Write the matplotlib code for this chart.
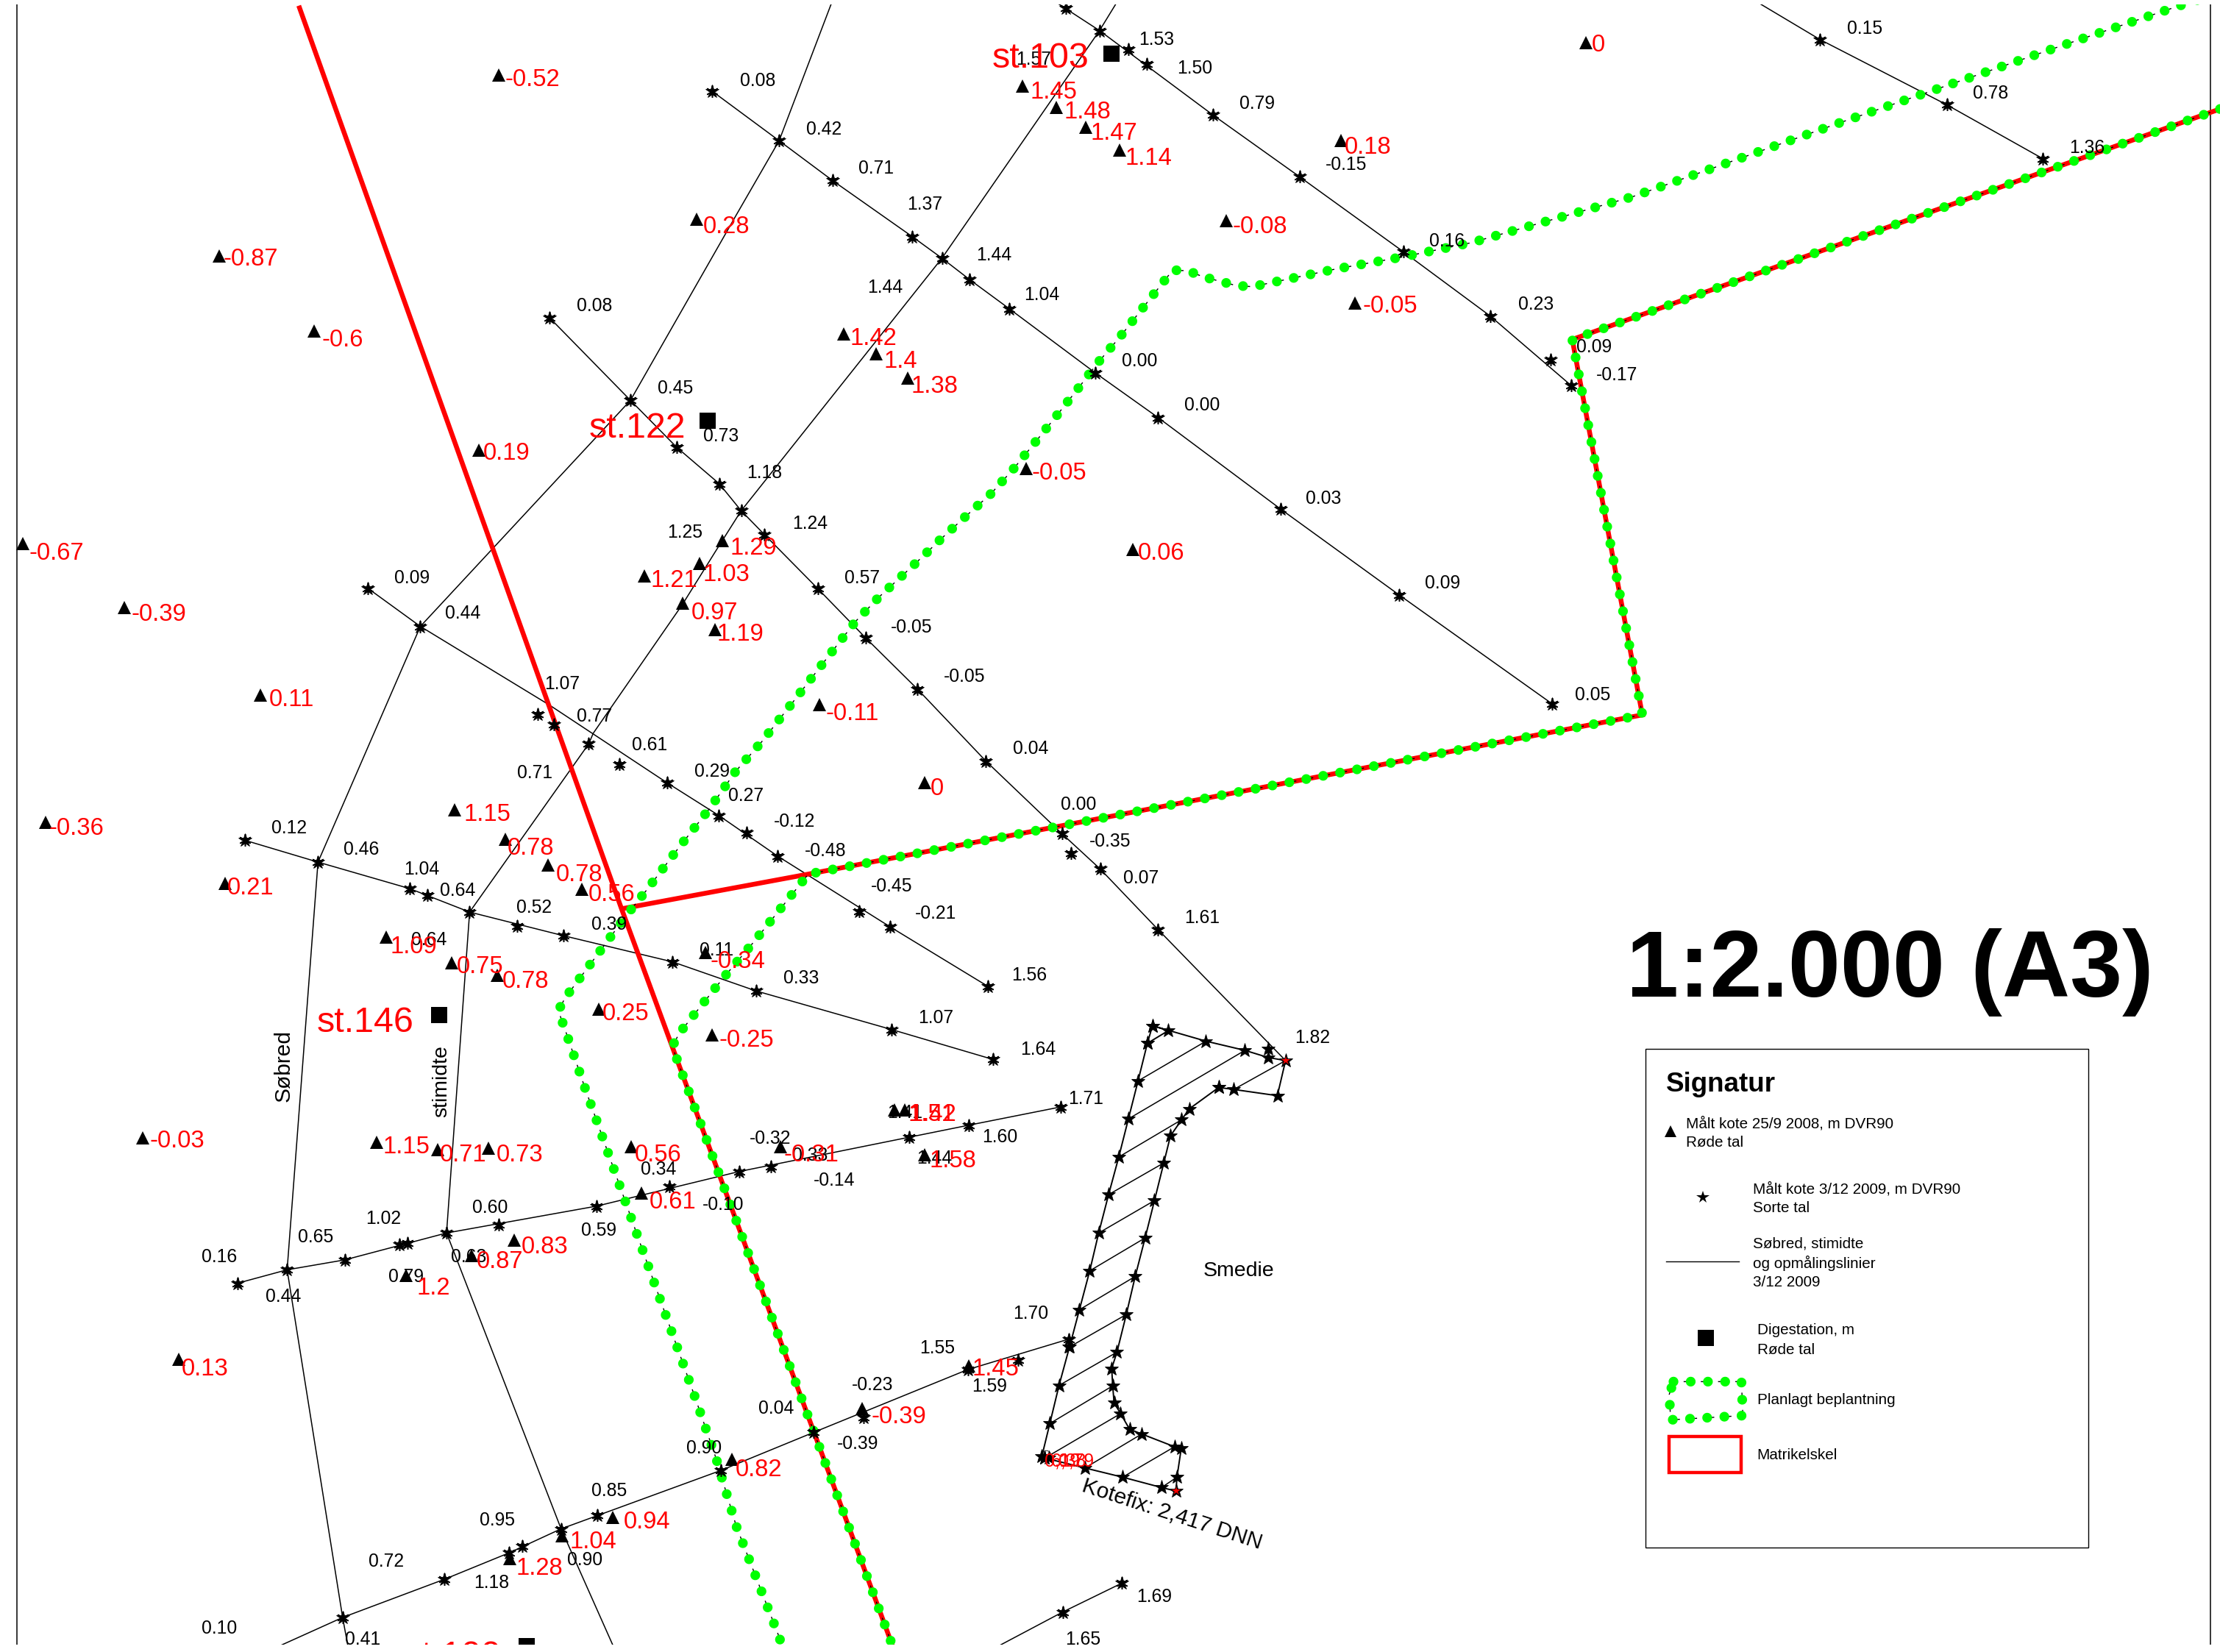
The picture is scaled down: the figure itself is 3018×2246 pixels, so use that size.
import matplotlib
matplotlib.use("Agg")
import matplotlib.pyplot as plt
from matplotlib.patches import Rectangle

plt.rcParams['font.family'] = ['Liberation Sans', 'DejaVu Sans']
plt.rcParams['lines.scale_dashes'] = False

# ---- map data (map coordinates) ----
line_sobred = [(587,3),(550.3,99.4),(519.5,152.8),(445.3,282.8),(296.9,442.5),(224.6,609),(202.8,897),(242,1142.6),(246.5,1167)]
line_stimidte = [(788,3),(776.6,21.6),(665.3,182.4),(523.5,360.8),(505.3,389.6),(482,427),(419,518),(415.8,525.5),(331.7,644.3),(322,779),(315.4,871),(396.3,1080),(435,1167)]
line_a = [(388.3,224.6),(445.3,282.8),(478,316),(508,341.7),(523.5,360.8),(540,377.7),(577.5,415.7),(611.3,450.5),(648,486.8),(696.4,537.7),(750,588.9),(777,613.8),(818,656.7),(908,749.2)]
line_b = [(503,64.4),(550.3,99.4),(588,127.5),(644.4,167.2),(665.3,182.4),(685,197.6),(713,218.2),(773.6,263.4),(818,295),(904.5,359.6),(988.4,420.4),(1096,497)]
line_c = [(748,3),(776.6,21.6),(856.8,81.3),(917.8,124.8),(991.3,177.9),(1052.5,223.2),(1109.8,272.4)]
line_d = [(1243.7,3),(1285.6,28),(1375,74),(1442.7,112)]
line_e = [(260,415.7),(296.9,442.5),(388,498),(471.2,553),(507.6,576),(549.3,604.8),(628.8,654.8),(697.8,696.8)]
line_f = [(173,593.6),(224.6,609),(289.3,627.7),(331.7,644.3),(398,661),(474.8,679.4),(534,700),(629.8,727.3),(701.4,748.4)]
line_i = [(167.7,906.5),(202.8,897),(243.5,890),(315.4,871),(421.5,852),(522,827.6),(642.4,803.3),(684,794.9),(749,782)]
line_j = [(199,1162),(242,1142.6),(314,1115.6),(359.5,1097),(396.3,1080),(509,1038.8),(574.8,1011.8),(683.5,967.5),(754.8,946)]
line_k = [(792.5,1118.3),(750.5,1138.8),(706.7,1162)]
survey_lines = [line_sobred, line_stimidte, line_a, line_b, line_c, line_d, line_e, line_f, line_i, line_j, line_k]

stars_survey = [(388.3,224.6),(445.3,282.8),(478,316),(508,341.7),(523.5,360.8),(540,377.7),(577.5,415.7),(611.3,450.5),(648,486.8),(696.4,537.7),(750,588.9),(756.7,602.8),(777,613.8),(818,656.7),
    (503,64.4),(550.3,99.4),(588,127.5),(644.4,167.2),(665.3,182.4),(685,197.6),(713,218.2),(773.6,263.4),(818,295),(904.5,359.6),(988.4,420.4),(1096,497),
    (752.8,5.5),(776.6,21.6),(796.8,35),(810,45),(856.8,81.3),(917.8,124.8),(991.3,177.9),(1052.5,223.2),(1095,254),(1109.8,272.4),
    (1285.6,28),(1375,74),(1442.7,112),
    (260,415.7),(296.9,442.5),(380,504.4),(391,511.6),(415.8,525.5),(437.7,539.7),(471.2,553),(507.6,576),(527.5,588.4),(549.3,604.8),(606.6,644),(628.8,654.8),(697.8,696.8),
    (173,593.6),(224.6,609),(289.3,627.7),(301.8,632.4),(331.7,644.3),(365,654.3),(398,661),(474.8,679.4),(534,700),(629.8,727.3),(701.4,748.4),
    (167.7,906.5),(202.8,897),(243.5,890),(282,879),(288,878),(315.4,871),(352.2,865),(421.5,852),(472.8,838),(522,827.6),(544.7,824),(642.4,803.3),(684,794.9),(749,782),
    (242,1142.6),(314,1115.6),(359.5,1097),(368.8,1092),(396.3,1080),(422,1070.6),(509,1038.8),(574.8,1011.8),(610,1001),(683.5,967.5),(719.3,960.5),(754.8,946),
    (792.5,1118.3),(750.5,1138.8)]

house_left = [(814,724.6),(810.4,737),(803.8,763.6),(797,790.4),(790.2,817.3),(783,843.9),(776,871),(769.7,897.7),(762.4,925.2),(755.4,951.5),(748,978.7),(741.5,1005.6),(735.9,1028.6)]
house_top = [(810.4,737),(825.3,728),(814,724.6),(851.8,735.5),(879.3,742),(895.6,747),(908,749.2),(902.2,774),(871.4,769.6),(860.8,768.2)]
house_right = [(860.8,768.2),(839.9,783.4),(834.6,791),(826.7,802.4),(822,821.5),(815.4,848.1),(808.8,874.5),(801.8,901.7),(795.5,928.6),(788.9,955.2),(785.2,966.7),(785.9,979),(786.9,991),(791.5,998.6),(797.8,1009.6),(806.4,1013),(829.6,1022),(834.3,1023.3),(831.3,1043.5),(830.6,1053.3),(820.4,1050.8),(792.9,1043.5),(766.3,1037),(738,1030),(735.9,1028.6)]
house_hatch = [((803.8,763.6),(851.8,735.5)),((797,790.4),(879.3,742)),((790.2,817.3),(834.6,791)),((783,843.9),(822,821.5)),((776,871),(815.4,848.1)),((769.7,897.7),(808.8,874.5)),((762.4,925.2),(801.8,901.7)),((755.4,951.5),(795.5,928.6)),((748,978.7),(788.9,955.2)),((741.5,1005.6),(785.9,979)),((738,1030),(791.5,998.6)),((766.3,1037),(806.4,1013)),((792.9,1043.5),(829.6,1022)),((820.4,1050.8),(831.3,1043.5)),((871.4,769.6),(908,749.2))]
house_extra_stars = [(895.6,741),(755,951.5),(738,1030),(741,1030)]
red_stars = [(908,749.2),(830.6,1053.3)]

matrikel_west = [(211,4),(439,642),(632,1167)]
matrikel_east = [(439,642),(570.9,617.5),(1160,505),(1110.5,239.8),(1568,77)]

plant_upper = [(1552,0),(1536.5,5),(1457,32),(1298.7,87),(1153,139),(1039,171.5),(991.3,181.4),(943.6,190),(884.6,202.5),(873.4,201.8),(850,195.6),(839,191.3),(828.3,190.8),(820.4,200.8),(806,219),(791.2,237.8),(775.6,256),(761,275),(746,294),(731,312.6),(716,331),(700,348.7),(682,364.8),(664.3,381),(647,397.6),(620.6,422),(604,439.3),(582,467.6),(560,496),(538,524),(519.5,545),(501.3,571),(478.8,599.6),(457.3,628),(442.3,646.8),(420.8,675.9),(399.3,704.7),(394.3,713.9),(398.6,725.8),(414,771),(418,782),(454,883.5),(490.4,985.6),(506,1030.9),(520,1078),(549.7,1154.8),(554,1167)]
plant_lower = [(1568,77),(1110.5,239.8),(1160,505),(570.9,617.5),(548.3,645.6),(533,664.7),(510.3,691.5),(480,729.6),(474.8,739.2),(632,1167)]

black_labels = [("0.08",535,56),("0.42",582,90),("0.71",619,118),("1.37",653,143),("1.44",702,179),("1.44",625,202),("1.04",736,207),("0.08",420,215),("0.45",477,273),("0.73",509,307),("1.18",540,333),("1.25",484,375),("1.24",572,369),("0.57",609,407),("0.09",291,407),("0.44",327,432),("1.07",397,482),("0.77",420,505),("0.61",459,525),("0.71",378,545),("0.29",503,544),("0.27",527,561),("-0.12",561,579),("-0.48",583,600),("-0.45",630,625),("-0.21",661,644),("0.12",204,584),("0.46",255,599),("1.04",298,613),("0.64",323,628),("0.52",377,640),("0.39",430,652),("0.64",303,663),("0.11",506,670),("0.33",566,690),("1.07",661,718),("1.64",733,740),("1.56",727,688),("1.61",849,647),("0.07",806,619),("-0.35",784,593),("0.00",762,567),("0.04",728,528),("-0.05",681,477),("-0.05",644,442),("0.09",1019,411),("0.03",935,351),("0.00",849,285),("0.00",805,254),("0.05",1125,490),("-0.17",1142,264),("0.09",1126,244),("0.23",1085,214),("0.16",1022,169),("-0.15",951,115),("0.79",888,72),("1.50",844,47),("1.53",817,27),("1.57",730,41),("0.15",1317,19),("0.78",1406,65),("1.36",1474,103),("1.82",927,732),("1.71",767,775),("1.60",706,802),("-0.14",589,833),("-0.32",544,803),("0.34",465,825),("-0.10",511,850),("0.59",423,868),("0.60",346,852),("1.02",271,860),("0.65",223,873),("0.16",155,887),("0.44",200,915),("0.79",287,901),("0.63",331,887),("0.90",497,1022),("0.85",430,1052),("0.95",351,1073),("0.72",273,1102),("1.18",347,1117),("0.90",413,1101),("0.10",155,1149),("0.41",256,1157),("0.04",548,994),("-0.23",616,977),("-0.39",606,1019),("1.55",662,951),("1.59",699,978),("1.70",728,927),("1.65",765,1157),("1.69",815,1127),("1.44",660,817),("1.41",639,785),("0.33",572,815)]

red_points = [("-0.52",352,53,376,55),("0",1120,30,1129,31),("1.45",722,61,744,64),("1.48",746,76,768,78),("1.47",767,90,787,93),("1.14",791,106,811,111),("0.18",947,99,966,103),("-0.08",866,156,890,159),("-0.05",957,214,982,215),("0.28",492,155,513,159),("-0.87",155,181,177,182),("-0.6",222,234,242,239),("1.42",596,236,617,238),("1.4",619,250,636,254),("1.38",641,267,660,272),("0.19",338,318,358,319),("-0.05",725,331,748,333),("0.06",800,388,820,390),("-0.67",16,384,40,390),("-0.39",88,429,112,433),("1.29",510,382,532,386),("1.03",494,398,513,405),("1.21",455,407,476,409),("0.97",482,426,505,432),("1.19",505,445,523,447),("0.11",184,491,206,493),("-0.11",579,498,602,503),("0",653,553,662,556),("1.15",321,572,344,574),("0.78",357,593,375,598),("0.78",387,611,409,617),("0.56",411,628,432,631),("-0.36",32,581,54,584),("0.21",159,624,177,626),("1.09",273,662,292,668),("0.75",319,680,339,682),("0.78",351,689,371,692),("-0.34",498,673,521,678),("0.25",423,713,442,715),("-0.25",503,731,527,734),("-0.03",101,804,125,805),("1.15",266,807,287,809),("0.71",309,812,327,815),("0.73",345,811,367,815),("0.56",446,810,465,815),("0.61",453,843,475,848),("0.83",363,876,385,880),("0.87",333,887,353,890),("1.2",287,901,306,909),("0.13",126,960,145,966),("1.51",632,784,658,786),("1.42",639,784,659,786),("-0.31",551,810,573,815),("1.58",653,816,673,819),("1.45",684,965,703,966),("-0.39",609,995,635,1000),("0.82",517,1031,536,1037),("0.94",433,1072,457,1074),("1.04",397,1085,419,1088),("1.28",360,1101,381,1107)]
red_small_labels = [("0,19",750,1032),("6,38",755,1032),("0,79",760,1032)]

stations = [("st.103",785,38,735,40),("st.122",500,297,450,301),("st.146",310,717,258,721),("st.100",372,1163,320,1169)]

legend_box = (1162,741,1475,1093)
legend_plant = [(1182,976),(1230,976),(1231,1000),(1180,1003),(1179,985),(1182,976)]
legend_red = (1179,1015,1230,1040)

fig = plt.figure(figsize=(30.18,22.46), dpi=100)
ax = fig.add_axes([0,0,1,1])
ax.set_xlim(0,1568); ax.set_ylim(1167,0); ax.axis('off')

def xy(p): return [a for a,_ in p],[b for _,b in p]

TY = 1.2   # vertical text nudge

ax.plot([12,12],[3,1167],color='k',lw=1.1,zorder=1)
ax.plot([1561.5,1561.5],[3,1167],color='k',lw=1.1,zorder=1)

for l in survey_lines:
    ax.plot(*xy(l),color='k',lw=1.1,zorder=2,solid_joinstyle='round')
for l in (house_left,house_top,house_right):
    ax.plot(*xy(l),color='k',lw=1.4,zorder=2)
for a,b in house_hatch:
    ax.plot(*xy([a,b]),color='k',lw=1.1,zorder=2)

for l in (matrikel_west,matrikel_east):
    ax.plot(*xy(l),color='#ff0000',lw=4.7,zorder=3,solid_joinstyle='miter',solid_capstyle='butt')

PERIOD=16.85
def plant(p,zo=4):
    ax.plot(*xy(p),color='k',lw=1.0,ls=(PERIOD/2-1.5,(3,PERIOD-3)),zorder=zo,dash_capstyle='butt')
    ax.plot(*xy(p),color='#00ff00',lw=9.6,ls=(0,(0.01,PERIOD-0.01)),zorder=zo+0.1,dash_capstyle='round',dash_joinstyle='round')
plant(plant_upper); plant(plant_lower)

ax.plot(*xy(stars_survey),ls='',marker='*',ms=13.5,color='k',mew=0.6,zorder=5)
ax.plot(*xy(stars_survey),ls='',marker=(6,2,0),ms=12,color='k',mew=1.1,zorder=5)
ax.plot(*xy(house_left+house_right[:-1]+house_top+house_extra_stars),ls='',marker='*',ms=14,color='k',mew=0.6,zorder=5)
ax.plot(*xy(red_stars),ls='',marker='*',ms=9,color='#ff0000',mew=0,zorder=6)
ax.plot([739],[1028],ls='',marker='o',ms=9,mfc='none',mec='k',mew=0.6,zorder=6)
tx=[r[1] for r in red_points]; ty=[r[2] for r in red_points]
ax.plot(tx,ty,ls='',marker='^',ms=13,color='k',mew=0,zorder=6)
ax.plot([s[1] for s in stations],[s[2] for s in stations],ls='',marker='s',ms=16.5,color='k',mew=0,zorder=6)

for t,x,y in black_labels:
    ax.text(x,y+TY,t,fontsize=17.8,color='k',ha='center',va='center',zorder=7,clip_on=True)
for t,_,_,x,y in red_points:
    ax.text(x,y+TY,t,fontsize=23.6,color='#ff0000',ha='center',va='center',zorder=8,clip_on=True)
for t,x,y in red_small_labels:
    ax.text(x,y,t,fontsize=17.8,color='#ff0000',ha='center',va='center',zorder=8)
for t,_,_,x,y in stations:
    ax.text(x,y+1.5,t,fontsize=34.8,color='#ff0000',ha='center',va='center',zorder=8,clip_on=True)

ax.text(200.5,753,"Søbred",fontsize=21.5,rotation=90,ha='center',va='center',zorder=7)
ax.text(312,764,"stimidte",fontsize=20.5,rotation=90,ha='center',va='center',zorder=7)
ax.text(875,898,"Smedie",fontsize=20.5,ha='center',va='center',zorder=7)
ax.text(828,1070,"Kotefix: 2,417 DNN",fontsize=21.5,rotation=-18,ha='center',va='center',rotation_mode='anchor',zorder=7)
ax.text(1335,687,"1:2.000 (A3)",fontsize=92,fontweight='bold',ha='center',va='center',zorder=7)

x0,y0,x1,y1=legend_box
ax.add_patch(Rectangle((x0,y0),x1-x0,y1-y0,fc='white',ec='k',lw=1,zorder=9))
ax.text(1177,766,"Signatur",fontsize=26.5,fontweight='bold',ha='left',va='center',zorder=10)
for t,x,y in [("Målt kote 25/9 2008, m DVR90",1191,793.8),("Røde tal",1191,807.3),("Målt kote 3/12 2009, m DVR90",1238,839.8),("Sorte tal",1238,853.3),("Søbred, stimidte",1238,878.8),("og opmålingslinier",1238,892.3),("3/12 2009",1238,905.8),("Digestation, m",1241,939.8),("Røde tal",1241,953.8),("Planlagt beplantning",1241,989),("Matrikelskel",1241,1028)]:
    ax.text(x,y,t,fontsize=14.9,ha='left',va='center',zorder=10)
ax.plot([1180],[799],ls='',marker='^',ms=11.5,color='k',mew=0,zorder=10)
ax.plot([1203],[846],ls='',marker='*',ms=13,color='k',mew=0,zorder=10)
ax.plot([1177,1228],[891,891],color='k',lw=1,zorder=10)
ax.plot([1205],[945],ls='',marker='s',ms=16,color='k',mew=0,zorder=10)
plant(legend_plant,zo=10)
rx0,ry0,rx1,ry1=legend_red
ax.add_patch(Rectangle((rx0,ry0),rx1-rx0,ry1-ry0,fc='none',ec='#ff0000',lw=3.2,zorder=10))

# the map sheet stops just inside the image edges
ax.add_patch(Rectangle((0,1162),1568,6,fc='white',ec='none',zorder=20))
ax.add_patch(Rectangle((0,-1),1568,4,fc='white',ec='none',zorder=20))

fig.savefig('out.png',dpi=100,facecolor='white')
